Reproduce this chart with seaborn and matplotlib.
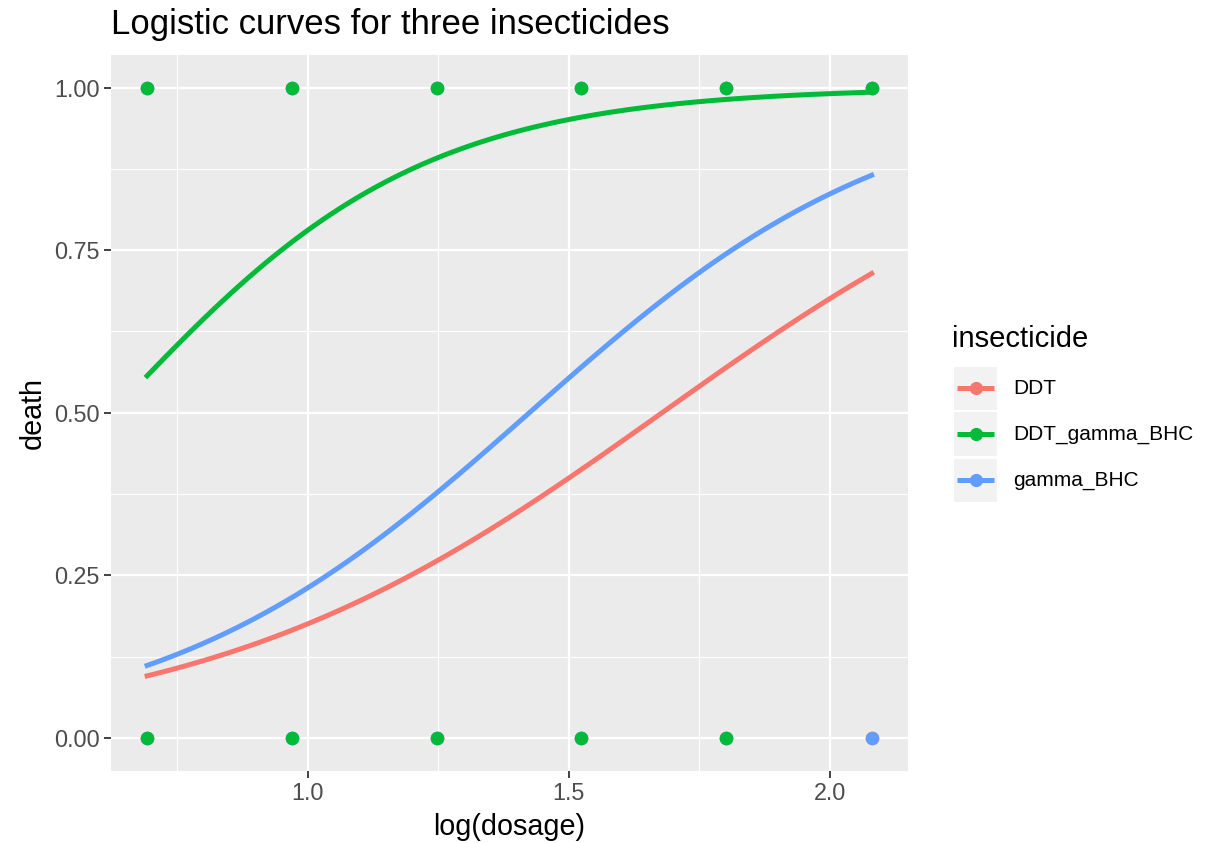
import numpy as np
import pandas as pd
import seaborn as sns
import matplotlib.pyplot as plt
from matplotlib.lines import Line2D
from matplotlib.patches import Rectangle

# insecticide data (Collett): number dead / number exposed at each dosage
dosage = [2.00, 2.64, 3.48, 4.59, 6.06, 8.00]
groups = ['DDT', 'DDT_gamma_BHC', 'gamma_BHC']
dead = {
    'DDT': [3, 5, 19, 19, 24, 35],
    'gamma_BHC': [2, 14, 20, 27, 41, 40],
    'DDT_gamma_BHC': [28, 37, 46, 48, 48, 50],
}
exposed = {
    'DDT': [50, 49, 47, 38, 49, 50],
    'gamma_BHC': [50, 49, 50, 50, 50, 50],
    'DDT_gamma_BHC': [50, 50, 50, 50, 50, 50],
}
colors = {'DDT': '#F8766D', 'DDT_gamma_BHC': '#00BA38', 'gamma_BHC': '#619CFF'}


def fit_logistic(x, k, n, iters=50):
    # binomial glm with logit link, fitted by IRLS
    X = np.column_stack([np.ones_like(x), x])
    beta = np.zeros(2)
    for _ in range(iters):
        p = 1 / (1 + np.exp(-X @ beta))
        w = n * p * (1 - p)
        z = X @ beta + (k - n * p) / w
        beta = np.linalg.solve(X.T @ (w[:, None] * X), X.T @ (w * z))
    return beta


# expand to one row per insect
rows = []
for g in groups:
    for d, k, n in zip(dosage, dead[g], exposed[g]):
        rows += [(g, np.log(d), 1)] * k + [(g, np.log(d), 0)] * (n - k)
df = pd.DataFrame(rows, columns=['insecticide', 'logdose', 'death'])

curves = []
for g in groups:
    x = np.log(np.array(dosage))
    b = fit_logistic(x, np.array(dead[g], float), np.array(exposed[g], float))
    grid = np.linspace(x.min(), x.max(), 80)
    curves.append(pd.DataFrame({'insecticide': g, 'logdose': grid,
                                'death': 1 / (1 + np.exp(-(b[0] + b[1] * grid)))}))
curves = pd.concat(curves)

plt.rcParams['font.family'] = ['Liberation Sans', 'DejaVu Sans']
W, H = 1227, 843
fig = plt.figure(figsize=(W / 100, H / 100), dpi=100)
ax = fig.add_axes([111 / W, 1 - 770.5 / H, (908 - 111) / W, (770.5 - 55) / H])
ax.set_facecolor('#EBEBEB')

# points: drawn so green ends up on top, blue above red
for g in ['DDT', 'gamma_BHC', 'DDT_gamma_BHC']:
    sub = df[df.insecticide == g].drop_duplicates()
    sns.scatterplot(data=sub, x='logdose', y='death', color=colors[g], s=95,
                    linewidth=0, ax=ax, legend=False, zorder=3)

sns.lineplot(data=curves, x='logdose', y='death', hue='insecticide',
             hue_order=groups, palette=colors, linewidth=3.6, ax=ax,
             legend=False, zorder=2)

ax.set_xlim(0.624, 2.149)
ax.set_ylim(-0.05, 1.05)
ax.set_xticks([1.0, 1.5, 2.0])
ax.set_xticklabels(['1.0', '1.5', '2.0'])
ax.set_yticks([0, 0.25, 0.5, 0.75, 1.0])
ax.set_yticklabels(['0.00', '0.25', '0.50', '0.75', '1.00'])
ax.set_xticks([0.75, 1.25, 1.75], minor=True)
ax.set_yticks([0.125, 0.375, 0.625, 0.875], minor=True)
ax.grid(which='major', color='white', linewidth=1.6)
ax.grid(which='minor', color='white', linewidth=0.8)
ax.set_axisbelow(True)
for s in ax.spines.values():
    s.set_visible(False)
ax.tick_params(which='major', length=4.8, width=1.3, color='#333333',
               labelcolor='#4D4D4D', labelsize=16.8, pad=3.5)
ax.tick_params(which='minor', length=0)
ax.set_xlabel('log(dosage)', fontsize=20.7, labelpad=6)
ax.set_ylabel('death', fontsize=20.7, labelpad=5)
ax.set_title('Logistic curves for three insecticides', loc='left', fontsize=25, pad=15)


# legend, laid out in pixel positions like ggplot's guide box
def fx(px):
    return px / W


def fy(py):
    return 1 - py / H


fig.text(fx(952), fy(339), 'insecticide', fontsize=21, va='center', ha='left')
for g, cy in zip(groups, [388, 434, 480.4]):
    fig.add_artist(Rectangle((fx(954), fy(cy + 21.5)), 43 / W, 43 / H,
                             transform=fig.transFigure, facecolor='#F2F2F2',
                             edgecolor='none'))
    fig.add_artist(Line2D([fx(957), fx(994)], [fy(cy), fy(cy)], color=colors[g],
                          linewidth=3.6, transform=fig.transFigure,
                          solid_capstyle='butt'))
    fig.add_artist(Line2D([fx(975.5)], [fy(cy)], color=colors[g], marker='o',
                          markersize=9.5, markeredgewidth=0, transform=fig.transFigure))
    fig.text(fx(1013), fy(cy), g, fontsize=15, va='center', ha='left')

fig.savefig('out.png', dpi=100)
